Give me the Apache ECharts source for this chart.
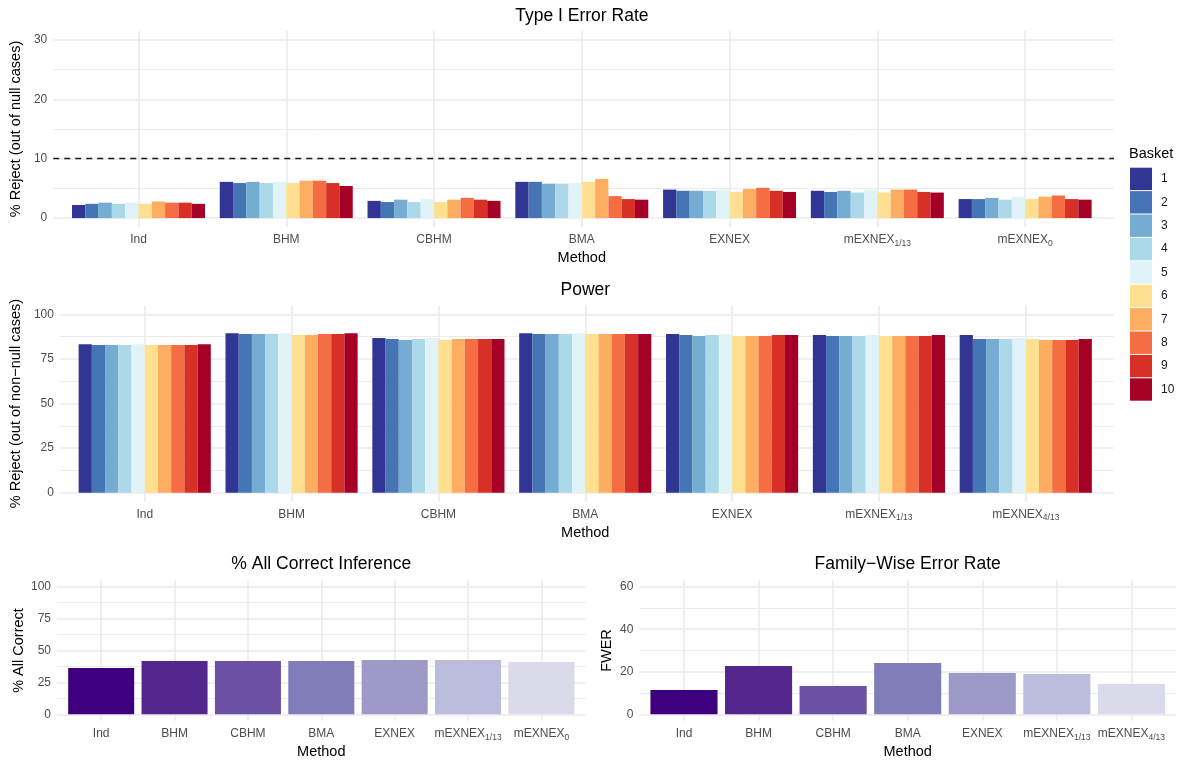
<!DOCTYPE html>
<html>
<head>
<meta charset="utf-8">
<title>Basket trial operating characteristics</title>
<script src="https://cdn.jsdelivr.net/npm/echarts@6/dist/echarts.min.js"></script>
<style>
  html, body { margin: 0; padding: 0; background: #ffffff; }
  #chart { width: 1181px; height: 763px; }
</style>
</head>
<body>
<div id="chart"></div>
<script>
// ---- data -----------------------------------------------------------------
const baskets = ['1', '2', '3', '4', '5', '6', '7', '8', '9', '10'];

const typeIMethods = ['Ind', 'BHM', 'CBHM', 'BMA', 'EXNEX', 'mEXNEX_{1/13}', 'mEXNEX_{0}'];
const powerMethods = ['Ind', 'BHM', 'CBHM', 'BMA', 'EXNEX', 'mEXNEX_{1/13}', 'mEXNEX_{4/13}'];
const allCorrectMethods = ['Ind', 'BHM', 'CBHM', 'BMA', 'EXNEX', 'mEXNEX_{1/13}', 'mEXNEX_{0}'];
const fwerMethods = ['Ind', 'BHM', 'CBHM', 'BMA', 'EXNEX', 'mEXNEX_{1/13}', 'mEXNEX_{4/13}'];

// % reject out of null cases, baskets 1..10 for each method
const typeIInd      = [2.2, 2.4, 2.6, 2.4, 2.6, 2.4, 2.8, 2.6, 2.6, 2.4];
const typeIBHM      = [6.1, 5.9, 6.1, 5.9, 6.1, 5.9, 6.3, 6.3, 5.9, 5.4];
const typeICBHM     = [2.9, 2.7, 3.1, 2.7, 3.2, 2.7, 3.1, 3.4, 3.1, 2.9];
const typeIBMA      = [6.1, 6.1, 5.8, 5.8, 5.9, 6.1, 6.6, 3.7, 3.2, 3.1];
const typeIEXNEX    = [4.8, 4.6, 4.6, 4.6, 4.8, 4.4, 4.9, 5.1, 4.6, 4.4];
const typeIMEXNEX1  = [4.6, 4.4, 4.6, 4.3, 4.8, 4.3, 4.8, 4.8, 4.4, 4.3];
const typeIMEXNEX0  = [3.2, 3.2, 3.4, 3.1, 3.6, 3.2, 3.6, 3.8, 3.2, 3.1];
const typeIThreshold = 10;

// % reject out of non-null cases, baskets 1..10 for each method
const powerInd      = [83.3, 82.8, 82.8, 82.8, 83.3, 82.8, 82.8, 82.8, 82.8, 83.3];
const powerBHM      = [89.5, 89.0, 89.0, 89.0, 89.5, 88.4, 88.4, 89.0, 89.0, 89.5];
const powerCBHM     = [86.7, 86.2, 85.6, 86.2, 86.7, 85.6, 86.2, 86.2, 86.2, 86.2];
const powerBMA      = [89.5, 89.0, 89.0, 89.0, 89.5, 89.0, 89.0, 89.0, 89.0, 89.0];
const powerEXNEX    = [89.0, 88.4, 87.9, 88.4, 89.0, 87.9, 87.9, 87.9, 88.4, 88.4];
const powerMEXNEX1  = [88.4, 87.9, 87.9, 87.9, 88.4, 87.9, 87.9, 87.9, 87.9, 88.4];
const powerMEXNEX4  = [88.4, 86.2, 86.2, 86.2, 86.7, 86.2, 85.6, 85.6, 85.6, 86.2];

const allCorrect = [36.3, 41.8, 41.8, 41.8, 42.6, 42.6, 41.0];
const fwer       = [11.4, 22.7, 13.3, 24.1, 19.4, 19.0, 14.3];

// axis ticks
const typeITicks = [0, 10, 20, 30];
const typeIMinorTicks = [5, 15, 25];
const powerTicks = [0, 25, 50, 75, 100];
const powerMinorTicks = [12.5, 37.5, 62.5, 87.5];
const allCorrectTicks = [0, 25, 50, 75, 100];
const allCorrectMinorTicks = [12.5, 37.5, 62.5, 87.5];
const fwerTicks = [0, 20, 40, 60];
const fwerMinorTicks = [10, 30, 50];

// ---- style ----------------------------------------------------------------
const FONT = "'Liberation Sans', Arial, Helvetica, sans-serif";
const basketColors = ['#313695', '#4575b4', '#74add1', '#abd9e9', '#e0f3f8',
                      '#fee090', '#fdae61', '#f46d43', '#d73027', '#a50026'];
const methodColors = ['#3f007d', '#54278f', '#6a51a3', '#807dba', '#9e9ac8', '#bcbddc', '#dadaeb'];
const GRID_COLOR = '#ebebeb';
const TICK_COLOR = '#4d4d4d';

// panel geometry: frame = full panel (horizontal grid + y labels),
// bars = band area that holds the categories (0.6 band padding at each end)
const panels = [
  { frame: { left: 49.7, width: 1064.3 }, bars: { left: 64.6, width: 1034.4 }, top: 31,    height: 196 },
  { frame: { left: 56.6, width: 1057.4 }, bars: { left: 71.3, width: 1027.9 }, top: 305.5, height: 196.1 },
  { frame: { left: 57.0, width: 528.6 },  bars: { left: 64.5, width: 513.6 },  top: 580.3, height: 140.4 },
  { frame: { left: 639.3, width: 536.8 }, bars: { left: 646.7, width: 522.0 }, top: 580.3, height: 140.4 }
];

function expanded(ticks) {
  const lo = Math.min.apply(null, ticks), hi = Math.max.apply(null, ticks);
  const pad = (hi - lo) * 0.05;
  return [lo - pad, hi + pad];
}

function methodLabel(v) {
  const m = /^(.*)_\{(.*)\}$/.exec(v);
  return m ? '{m|' + m[1] + '}{s|' + m[2] + '}' : '{m|' + v + '}';
}

const grids = [], xAxes = [], yAxes = [], series = [];

function addPanel(p, cfg) {
  const gFrame = grids.length;
  grids.push({ left: p.frame.left, width: p.frame.width, top: p.top, height: p.height, containLabel: false });
  grids.push({ left: p.bars.left, width: p.bars.width, top: p.top, height: p.height, containLabel: false });
  const gBars = gFrame + 1;
  const range = expanded(cfg.ticks);

  // frame: hidden x, major + minor y
  const xFrame = xAxes.length;
  xAxes.push({ type: 'value', gridIndex: gFrame, show: false, min: 0, max: 1 });
  const yMajor = yAxes.length;
  yAxes.push({
    type: 'value', gridIndex: gFrame, position: 'left', min: range[0], max: range[1],
    axisLine: { show: false },
    axisTick: { show: false, customValues: cfg.ticks },
    axisLabel: { customValues: cfg.ticks, color: TICK_COLOR, fontSize: 12, fontFamily: FONT, margin: 6 },
    splitLine: { show: true, lineStyle: { color: GRID_COLOR, width: 1.6 } },
    name: cfg.yName, nameLocation: 'middle', nameGap: cfg.yNameGap,
    nameTextStyle: { color: '#000', fontSize: 14.5, fontFamily: FONT }
  });
  yAxes.push({
    type: 'value', gridIndex: gFrame, position: 'left', min: range[0], max: range[1],
    axisLine: { show: false },
    axisTick: { show: false, customValues: cfg.minor },
    axisLabel: { show: false, customValues: cfg.minor },
    splitLine: { show: true, lineStyle: { color: GRID_COLOR, width: 1 } }
  });

  // bars: category x with vertical grid on category centres, hidden y
  const xBars = xAxes.length;
  xAxes.push({
    type: 'category', gridIndex: gBars, data: cfg.categories,
    axisLine: { show: false }, axisTick: { show: false },
    axisLabel: {
      interval: 0, margin: 5, formatter: methodLabel,
      rich: {
        m: { color: TICK_COLOR, fontSize: 12, fontFamily: FONT, lineHeight: 16 },
        s: { color: TICK_COLOR, fontSize: 8.5, fontFamily: FONT, lineHeight: 9, verticalAlign: 'bottom' }
      }
    },
    splitLine: { show: true, interval: 0, alignWithLabel: true, lineStyle: { color: GRID_COLOR, width: 1.6 } },
    name: 'Method', nameLocation: 'middle', nameGap: cfg.xNameGap,
    nameTextStyle: { color: '#000', fontSize: 14.5, fontFamily: FONT }
  });
  const yBars = yAxes.length;
  yAxes.push({ type: 'value', gridIndex: gBars, show: false, min: range[0], max: range[1] });

  return { xFrame, yMajor, xBars, yBars };
}

function basketSeries(ax, methodRows) {
  baskets.forEach((b, i) => {
    series.push({
      type: 'bar', name: b, xAxisIndex: ax.xBars, yAxisIndex: ax.yBars,
      data: methodRows.map(row => row[i]),
      itemStyle: { color: basketColors[i] },
      barGap: '0%', barCategoryGap: '10%',
      emphasis: { disabled: true }
    });
  });
}

// Type I error panel
const axTypeI = addPanel(panels[0], {
  ticks: typeITicks, minor: typeIMinorTicks, categories: typeIMethods,
  yName: '% Reject (out of null cases)', yNameGap: 23, xNameGap: 23.5
});
basketSeries(axTypeI, [typeIInd, typeIBHM, typeICBHM, typeIBMA, typeIEXNEX, typeIMEXNEX1, typeIMEXNEX0]);
series.push({
  type: 'line', name: 'threshold', xAxisIndex: axTypeI.xFrame, yAxisIndex: axTypeI.yMajor,
  data: [], silent: true,
  markLine: {
    silent: true, symbol: ['none', 'none'], label: { show: false },
    lineStyle: { color: '#1a1a1a', width: 1.4, type: [6, 5] },
    data: [{ yAxis: typeIThreshold }]
  }
});

// Power panel
const axPower = addPanel(panels[1], {
  ticks: powerTicks, minor: powerMinorTicks, categories: powerMethods,
  yName: '% Reject (out of non\u2212null cases)', yNameGap: 30, xNameGap: 23.5
});
basketSeries(axPower, [powerInd, powerBHM, powerCBHM, powerBMA, powerEXNEX, powerMEXNEX1, powerMEXNEX4]);

// All-correct panel
const axAll = addPanel(panels[2], {
  ticks: allCorrectTicks, minor: allCorrectMinorTicks, categories: allCorrectMethods,
  yName: '% All Correct', yNameGap: 30.5, xNameGap: 24
});
series.push({
  type: 'bar', name: 'allCorrect', xAxisIndex: axAll.xBars, yAxisIndex: axAll.yBars,
  barCategoryGap: '10%', emphasis: { disabled: true },
  data: allCorrect.map((v, i) => ({ value: v, itemStyle: { color: methodColors[i] } }))
});

// FWER panel
const axFwer = addPanel(panels[3], {
  ticks: fwerTicks, minor: fwerMinorTicks, categories: fwerMethods,
  yName: 'FWER', yNameGap: 24.5, xNameGap: 24
});
series.push({
  type: 'bar', name: 'fwer', xAxisIndex: axFwer.xBars, yAxisIndex: axFwer.yBars,
  barCategoryGap: '10%', emphasis: { disabled: true },
  data: fwer.map((v, i) => ({ value: v, itemStyle: { color: methodColors[i] } }))
});

const titleStyle = { color: '#000', fontSize: 17.5, fontWeight: 'normal', fontFamily: FONT };
function panelTitle(text, p, top) {
  return { text, left: p.frame.left + p.frame.width / 2, top, textAlign: 'center', padding: 0, textStyle: titleStyle };
}

const chart = echarts.init(document.getElementById('chart'), null, { renderer: 'canvas' });
chart.setOption({
  animation: false,
  backgroundColor: '#ffffff',
  title: [
    panelTitle('Type I Error Rate', panels[0], 7),
    panelTitle('Power', panels[1], 281.5),
    panelTitle('% All Correct Inference', panels[2], 555.5),
    panelTitle('Family\u2212Wise Error Rate', panels[3], 555.5),
    { text: 'Basket', left: 1129, top: 146, padding: 0,
      textStyle: { color: '#000', fontSize: 14.5, fontWeight: 'normal', fontFamily: FONT } }
  ],
  legend: {
    data: baskets, orient: 'vertical', left: 1130, top: 167.7, padding: 0,
    icon: 'rect', itemWidth: 22, itemHeight: 22.4, itemGap: 1,
    selectedMode: false,
    textStyle: { color: '#1a1a1a', fontSize: 12, fontFamily: FONT, padding: [0, 0, 0, 4] }
  },
  grid: grids,
  xAxis: xAxes,
  yAxis: yAxes,
  series: series
});
</script>
</body>
</html>
